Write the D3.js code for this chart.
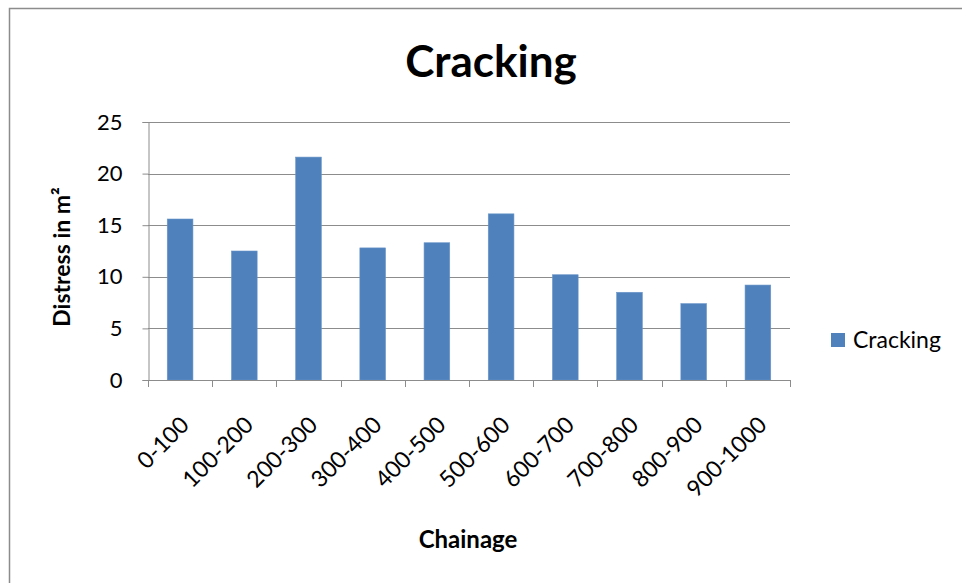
<!DOCTYPE html>
<html>
<head>
<meta charset="utf-8">
<script src="https://cdn.jsdelivr.net/npm/d3@7"></script>
<style>
  html, body { margin: 0; padding: 0; background: #fff; }
  svg { display: block; }
  text { font-family: Lato, "Open Sans", sans-serif; fill: #000; }
</style>
</head>
<body>
<svg id="chart" width="962" height="583"></svg>
<script>
// Chainage segments and the cracking area measured in each
const chainages = ["0-100", "100-200", "200-300", "300-400", "400-500",
                   "500-600", "600-700", "700-800", "800-900", "900-1000"];
const crackingValues = [15.6, 12.5, 21.6, 12.8, 13.3, 16.1, 10.2, 8.5, 7.4, 9.2];
const yTicks = [0, 5, 10, 15, 20, 25];
const seriesName = "Cracking";

const svg = d3.select("#chart");

// chart frame
svg.append("rect")
  .attr("x", 9.5).attr("y", 8.5)
  .attr("width", 1000).attr("height", 700)
  .attr("fill", "#fff").attr("stroke", "#8c8c8c").attr("stroke-width", 1.5);

const plot = { left: 148, right: 790, top: 122, bottom: 380 };

const x = d3.scaleBand()
  .domain(chainages)
  .range([plot.left, plot.right])
  .paddingInner(0.6).paddingOuter(0.3);

const xEdge = d3.scaleLinear()
  .domain([0, chainages.length])
  .range([plot.left, plot.right]);

const y = d3.scaleLinear()
  .domain([0, 25])
  .range([plot.bottom, plot.top]);

// horizontal gridlines
svg.append("g")
  .selectAll("line")
  .data(yTicks.filter(t => t > 0))
  .join("line")
  .attr("x1", plot.left).attr("x2", plot.right)
  .attr("y1", d => Math.round(y(d)) + 0.5).attr("y2", d => Math.round(y(d)) + 0.5)
  .attr("stroke", "#8c8c8c").attr("stroke-width", 1);

// bars
svg.append("g")
  .selectAll("rect")
  .data(crackingValues)
  .join("rect")
  .attr("x", (d, i) => x(chainages[i]))
  .attr("y", d => y(d))
  .attr("width", x.bandwidth())
  .attr("height", d => y(0) - y(d))
  .attr("fill", "#4f81bd")
  .attr("stroke", "#6a95c8").attr("stroke-width", 0.6);

// y axis
const yAxis = svg.append("g")
  .attr("transform", `translate(${plot.left + 0.5},0)`)
  .call(d3.axisLeft(y).tickValues(yTicks).tickSize(6).tickPadding(20));
yAxis.select(".domain").attr("stroke", "#8c8c8c");
yAxis.selectAll(".tick line").attr("stroke", "#8c8c8c");
yAxis.selectAll(".tick text")
  .style("font-family", "Lato, 'Open Sans', sans-serif")
  .style("font-size", "22px").attr("fill", "#000");

// x axis line and category boundary ticks
const xAxis = svg.append("g");
xAxis.append("line")
  .attr("x1", plot.left).attr("x2", plot.right)
  .attr("y1", plot.bottom + 0.5).attr("y2", plot.bottom + 0.5)
  .attr("stroke", "#8c8c8c");
xAxis.selectAll("line.tk")
  .data(d3.range(chainages.length + 1))
  .join("line").attr("class", "tk")
  .attr("x1", d => Math.round(xEdge(d)) + 0.5).attr("x2", d => Math.round(xEdge(d)) + 0.5)
  .attr("y1", plot.bottom).attr("y2", plot.bottom + 7)
  .attr("stroke", "#8c8c8c");

// rotated category labels
xAxis.selectAll("text")
  .data(chainages)
  .join("text")
  .attr("transform", d => `translate(${x(d) + x.bandwidth() / 2 - 1},${plot.bottom + 35}) rotate(-45)`)
  .attr("text-anchor", "end")
  .attr("dy", "0.7em")
  .style("font-size", "23px")
  .text(d => d);

// title
svg.append("text")
  .attr("x", 491).attr("y", 77)
  .attr("text-anchor", "middle")
  .style("font-size", "44px").style("font-weight", "bold")
  .text(seriesName);

// axis titles
svg.append("text")
  .attr("x", 468).attr("y", 548)
  .attr("text-anchor", "middle")
  .style("font-size", "24px").style("font-weight", "bold")
  .text("Chainage");

svg.append("text")
  .attr("transform", "translate(70,257) rotate(-90)")
  .attr("text-anchor", "middle")
  .style("font-size", "23px").style("font-weight", "bold")
  .text("Distress in m²");

// legend
const legend = svg.append("g").attr("transform", "translate(831,333)");
legend.append("rect")
  .attr("width", 14).attr("height", 14)
  .attr("fill", "#4f81bd");
legend.append("text")
  .attr("x", 22).attr("y", 15)
  .style("font-size", "23px")
  .text(seriesName);
</script>
</body>
</html>
